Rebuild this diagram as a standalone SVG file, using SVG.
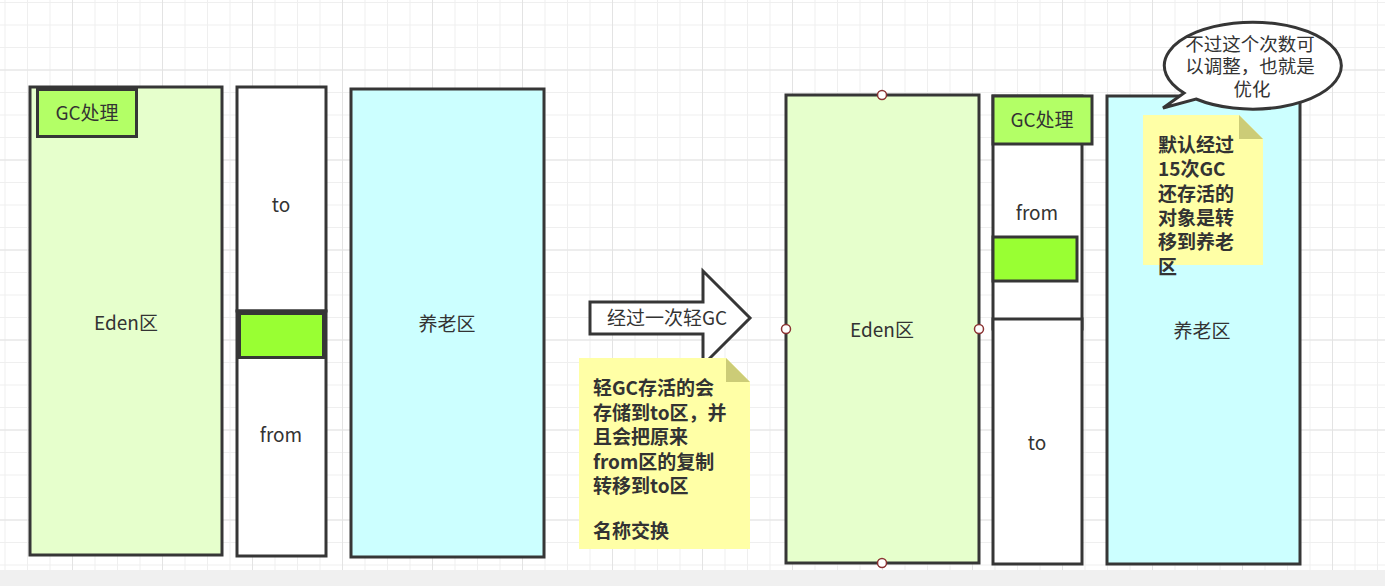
<svg xmlns="http://www.w3.org/2000/svg" width="1385" height="586" viewBox="0 0 1385 586">
<defs>
  <pattern id="minor" x="4.5" y="2" width="22.5" height="22.5" patternUnits="userSpaceOnUse">
    <path d="M0.5 0V22.5M0 0.5H22.5" stroke="#efefef" stroke-width="1" fill="none"/>
  </pattern>
  <pattern id="major" x="72" y="69.5" width="90" height="90" patternUnits="userSpaceOnUse">
    <path d="M0.5 0V90M0 0.5H90" stroke="#e3e3e3" stroke-width="1" fill="none"/>
  </pattern>
  <style>
    .box { stroke: #363636; stroke-width: 3; }
    .eden { fill: #e6ffcc; }
    .old { fill: #ccffff; }
    .white { fill: #ffffff; }
    .gc { fill: #b3ff66; }
    .obj { fill: #99ff33; }
    .lbl { font-family: "Noto Sans CJK SC", "Noto Sans", "Liberation Sans", sans-serif; font-size: 19px; fill: #333333; text-anchor: middle; dominant-baseline: central; }
    .co { font-size: 18.5px; }
    .note { fill: #ffffa6; }
    .fold { fill: #cccc77; }
    .nt { font-family: "Noto Sans CJK SC", "Noto Sans", "Liberation Sans", sans-serif; font-size: 19px; font-weight: bold; fill: #333333; }
    .handle { fill: #ffffff; stroke: #8b3333; stroke-width: 1.5; }
  </style>
</defs>
<rect width="1385" height="586" fill="#ffffff"/>
<rect x="0" y="0" width="1385" height="570" fill="url(#minor)"/>
<rect x="0" y="0" width="1385" height="570" fill="url(#major)"/>
<rect x="0" y="570" width="1385" height="16" fill="#f0f0f0"/>

<!-- Left side -->
<g id="eden-left">
  <rect class="box eden" x="30" y="87" width="192" height="468"/>
  <text class="lbl" x="126" y="321.5">Eden区</text>
</g>
<g id="gc-left">
  <rect class="box gc" x="37.5" y="89.5" width="99" height="47"/>
  <text class="lbl" x="87" y="111.5">GC处理</text>
</g>
<g id="to-left">
  <rect class="box white" x="237" y="87" width="89" height="224"/>
  <text class="lbl" x="281" y="203.5">to</text>
</g>
<g id="from-left">
  <rect class="box white" x="237" y="311" width="89" height="245"/>
  <text class="lbl" x="281" y="433.5">from</text>
</g>
<g id="obj-left">
  <rect class="box obj" x="239.5" y="313.5" width="84" height="44"/>
</g>
<g id="old-left">
  <rect class="box old" x="351" y="89" width="193" height="468"/>
  <text class="lbl" x="447" y="322.5">养老区</text>
</g>

<!-- Arrow -->
<g id="arrow">
  <path class="box white" d="M590 302H703V271L750 318L703 365V334H590Z"/>
  <text class="lbl" x="667" y="316.5">经过一次轻GC</text>
</g>

<g id="note-left">
  <path class="note" d="M579 358H726L750 382V549H579Z"/>
  <path class="fold" d="M726 358L750 382H726Z"/>
  <text class="nt" dominant-baseline="central">
    <tspan x="593" y="386">轻GC存活的会</tspan>
    <tspan x="593" y="410.5">存储到to区，并</tspan>
    <tspan x="593" y="435">且会把原来</tspan>
    <tspan x="593" y="459.5">from区的复制</tspan>
    <tspan x="593" y="484">转移到to区</tspan>
    <tspan x="593" y="529">名称交换</tspan>
  </text>
</g>

<!-- Right side -->
<g id="eden-right">
  <rect class="box eden" x="786" y="95" width="193" height="468"/>
  <text class="lbl" x="882" y="328.5">Eden区</text>
  <circle class="handle" cx="882" cy="95" r="4.5"/>
  <circle class="handle" cx="882" cy="563" r="4.5"/>
  <circle class="handle" cx="786" cy="329" r="4.5"/>
  <circle class="handle" cx="979" cy="329" r="4.5"/>
</g>
<g id="from-right">
  <rect class="box white" x="993" y="96" width="89" height="233"/>
  <text class="lbl" x="1037" y="211.5">from</text>
</g>
<g id="to-right">
  <rect class="box white" x="993" y="319" width="89" height="245"/>
  <text class="lbl" x="1037" y="441.5">to</text>
</g>
<g id="gc-right">
  <rect class="box gc" x="993" y="96" width="99" height="48"/>
  <text class="lbl" x="1042" y="118.5">GC处理</text>
</g>
<g id="obj-right">
  <rect class="box obj" x="993" y="237" width="84" height="44"/>
</g>
<g id="old-right">
  <rect class="box old" x="1107" y="96" width="193" height="468"/>
  <text class="lbl" x="1202" y="329.5">养老区</text>
</g>

<g id="note-right">
  <path class="note" d="M1143 115H1239L1263 139V265H1143Z"/>
  <path class="fold" d="M1239 115L1263 139H1239Z"/>
  <text class="nt" dominant-baseline="central">
    <tspan x="1158" y="143">默认经过</tspan>
    <tspan x="1158" y="167.3">15次GC</tspan>
    <tspan x="1158" y="191.6">还存活的</tspan>
    <tspan x="1158" y="215.9">对象是转</tspan>
    <tspan x="1158" y="240.2">移到养老</tspan>
    <tspan x="1158" y="264.5">区</tspan>
  </text>
</g>

<g id="callout">
  <path class="box white" d="M1184 93L1163 108L1196 99A88.5 43.5 0 1 0 1184 93Z"/>
  <text class="lbl co">
    <tspan x="1252" y="42.5">不过这个次数可</tspan>
    <tspan x="1252" y="65">以调整，也就是</tspan>
    <tspan x="1252" y="87.5">优化</tspan>
  </text>
</g>
<g id="connectors"></g>
</svg>
